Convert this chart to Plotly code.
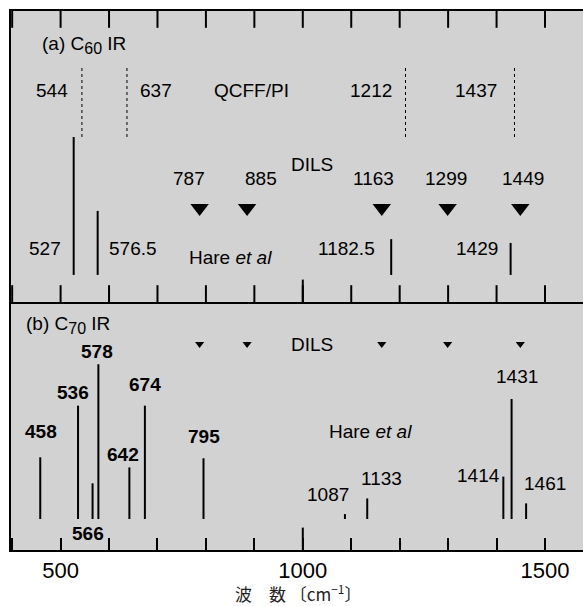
import plotly.graph_objects as go

# ---------------- data ----------------
qcff_pos = [544, 637, 1212, 1437]
qcff_labels = ["544", "637", "1212", "1437"]
dils_pos = [787, 885, 1163, 1299, 1449]
dils_labels = ["787", "885", "1163", "1299", "1449"]

c60_pos = [527, 576.5, 1182.5, 1429]
c60_labels = ["527", "576.5", "1182.5", "1429"]
c60_top = [0.567, 0.313, 0.216, 0.203]
c60_base = 0.093

c70_pos = [458, 536, 566, 578, 642, 674, 795, 1087, 1133, 1414, 1431, 1461]
c70_labels = ["458", "536", "566", "578", "642", "674", "795", "1087", "1133", "1414", "1431", "1461"]
c70_top = [0.374, 0.582, 0.269, 0.749, 0.333, 0.582, 0.370, 0.145, 0.208, 0.296, 0.609, 0.188]
c70_base = 0.125

all_ticks = list(range(400, 1600, 100))
major_ticks = [500, 1000, 1500]
major_text = ["500", "1000", "1500"]
long_tick = [1000]

# ---------------- layout helpers (pixel -> data for text placement) ----------------
def tx(px):
    return 500 + (px - 60.6) / 0.4844

def ty_top(py):
    return (302 - py) / 291

def ty_bot(py):
    return (550 - py) / 248

FONT = "Liberation Sans, Arial, Helvetica, sans-serif"
FS = 19

def stems(pos, base, tops):
    xs, ys = [], []
    for p, t in zip(pos, tops):
        xs += [p, p, None]
        ys += [base, t, None]
    return xs, ys

fig = go.Figure()

# QCFF/PI dotted lines (top panel)
qx, qy = stems(qcff_pos, 0.567, [0.808] * len(qcff_pos))
fig.add_trace(go.Scatter(x=qx, y=qy, mode="lines", xaxis="x", yaxis="y",
                         line=dict(color="black", width=1, dash="dot"), hoverinfo="skip"))
# Hare et al C60 lines
hx, hy = stems(c60_pos, c60_base, c60_top)
fig.add_trace(go.Scatter(x=hx, y=hy, mode="lines", xaxis="x", yaxis="y",
                         line=dict(color="black", width=2), hoverinfo="skip"))
# DILS triangles top
fig.add_trace(go.Scatter(x=dils_pos, y=[ty_top(208)] * len(dils_pos), mode="markers",
                         xaxis="x", yaxis="y",
                         marker=dict(symbol="triangle-down", size=16, color="black"), hoverinfo="skip"))
# C70 lines
bx, by = stems(c70_pos, c70_base, c70_top)
fig.add_trace(go.Scatter(x=bx, y=by, mode="lines", xaxis="x2", yaxis="y2",
                         line=dict(color="black", width=2), hoverinfo="skip"))
# DILS triangles bottom
fig.add_trace(go.Scatter(x=dils_pos, y=[ty_bot(344)] * len(dils_pos), mode="markers",
                         xaxis="x2", yaxis="y2",
                         marker=dict(symbol="triangle-down", size=8, color="black"), hoverinfo="skip"))

# inward tick marks of the top panel (top edge and divider), half clipped by the plot area
tick_marker = dict(symbol="line-ns", size=24, line=dict(width=2, color="black"))
fig.add_trace(go.Scatter(x=all_ticks * 2, y=[1] * len(all_ticks) + [0] * len(all_ticks),
                         mode="markers", xaxis="x", yaxis="y", cliponaxis=True,
                         marker=tick_marker, hoverinfo="skip"))
# longer tick at 1000 (divider and bottom axis)
long_marker = dict(symbol="line-ns", size=32, line=dict(width=2, color="black"))
fig.add_trace(go.Scatter(x=long_tick, y=[0], mode="markers", xaxis="x", yaxis="y",
                         cliponaxis=True, marker=long_marker, hoverinfo="skip"))
fig.add_trace(go.Scatter(x=long_tick, y=[0], mode="markers", xaxis="x2", yaxis="y2",
                         cliponaxis=True, marker=long_marker, hoverinfo="skip"))

ann = []

def add(text, x, y, ref, xanchor="center", size=FS):
    ann.append(dict(text=text, x=x, y=y, xref="x" if ref == 1 else "x2",
                    yref="y" if ref == 1 else "y2", xanchor=xanchor, yanchor="middle",
                    showarrow=False, font=dict(family=FONT, size=size, color="black")))

SUB = '<sub><span style="font-size:16px">{}</span></sub>'

# top panel texts
add("(a) C" + SUB.format("60") + " IR", tx(39.8), ty_top(45), 1, xanchor="left")
for lab, px in zip(qcff_labels, [51.7, 156, 371, 476]):
    add(lab, tx(px), ty_top(90), 1)
add("QCFF/PI", tx(251), ty_top(90), 1)
add("DILS", tx(312), ty_top(164), 1)
for lab, px in zip(dils_labels, [188.6, 261, 373.6, 446, 523]):
    add(lab, tx(px), ty_top(178), 1)
for lab, px in zip(c60_labels, [45, 133, 346, 476.6]):
    add(lab, tx(px), ty_top(248), 1)
add("Hare <i>et al</i>", tx(230.5), ty_top(257), 1)

# bottom panel texts
add("(b) C" + SUB.format("70") + " IR", tx(24), ty_bot(325), 2, xanchor="left")
add("DILS", tx(312), ty_bot(344), 2)
add("Hare <i>et al</i>", tx(370.6), ty_bot(431.7), 2)
c70_lab_px = [(40.9, 431.7), (72.5, 392.7), (88, 533.3), (96.7, 351), (123, 454.3), (145, 384),
              (203.7, 436), (328, 494), (381.8, 478.3), (478, 475), (516.7, 376.7), (545, 483.3)]
bold_labels = {"458", "536", "566", "578", "642", "674", "795"}
for lab, (px, py) in zip(c70_labels, c70_lab_px):
    add("<b>" + lab + "</b>" if lab in bold_labels else lab, tx(px), ty_bot(py), 2)

# x-axis title
ann.append(dict(text="波　数 〔cm<sup>−1</sup>〕", x=(298 - 11) / 572, y=-43 / 539,
                xref="paper", yref="paper", xanchor="center", yanchor="middle", showarrow=False,
                font=dict(family="Noto Sans CJK JP", size=17, color="#222")))

split = 1 - 291 / 539
xr = [tx(11), tx(583)]

common_x = dict(range=xr, showgrid=False, zeroline=False)

fig.update_layout(
    width=583, height=606,
    margin=dict(l=11, r=0, t=11, b=56),
    paper_bgcolor="white", plot_bgcolor="#d2d2d2",
    showlegend=False,
    annotations=ann,
    # top panel: divider line + top edge line
    xaxis=dict(domain=[0, 1], anchor="y", **common_x,
               showline=True, linecolor="black", linewidth=2, mirror=True,
               ticks="", showticklabels=False),
    yaxis=dict(domain=[split, 1], anchor="x", range=[0, 1], showgrid=False, zeroline=False,
               showline=True, linecolor="black", linewidth=2, ticks="", showticklabels=False),
    # bottom panel: labelled axis
    xaxis2=dict(domain=[0, 1], anchor="y2", **common_x,
                showline=True, linecolor="black", linewidth=2,
                ticks="inside", ticklen=12, tickwidth=2, tickcolor="black",
                tickmode="array", tickvals=major_ticks, ticktext=major_text,
                tickfont=dict(family=FONT, size=22, color="black"),
                minor=dict(dtick=100, tick0=0, ticks="inside", ticklen=12, tickwidth=2,
                           tickcolor="black", showgrid=False)),
    yaxis2=dict(domain=[0, split], anchor="x2", range=[0, 1], showgrid=False, zeroline=False,
                showline=True, linecolor="black", linewidth=2, ticks="", showticklabels=False),
)

fig.write_html("out.html")
